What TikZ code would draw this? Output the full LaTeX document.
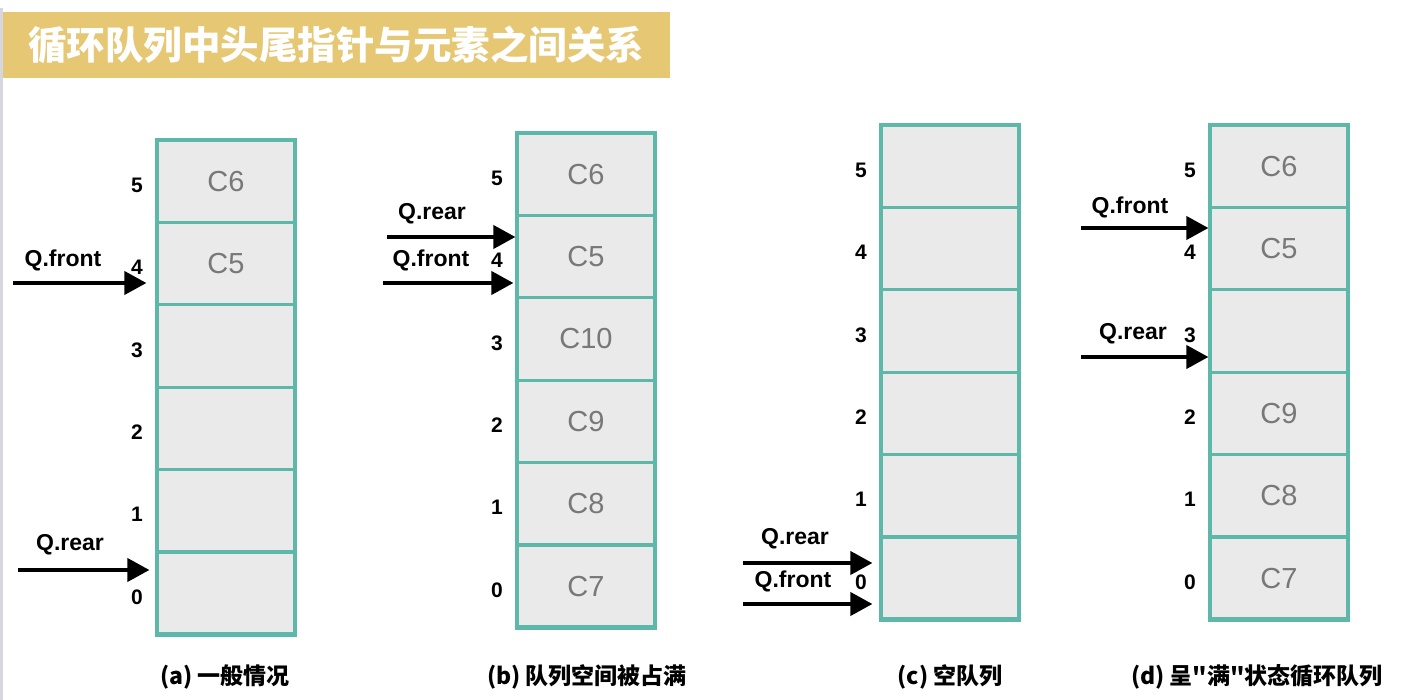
\documentclass[tikz,border=0pt]{standalone}
\usepackage{fontspec}
\setmainfont{Liberation Sans}
\newfontfamily\cjk{Noto Sans CJK SC}
\usetikzlibrary{arrows.meta}
\definecolor{teal}{HTML}{5DB8A9}
\definecolor{cellfill}{HTML}{EAEAEA}
\definecolor{celltext}{HTML}{787878}
\definecolor{gold}{HTML}{E6C874}
\definecolor{edge}{HTML}{D6D6DE}
\tikzset{
  cellbox/.style={draw=teal, line width=3.2pt, fill=cellfill, text=celltext,
    minimum width=138pt, minimum height=82.4pt, inner sep=0pt,
    font=\fontsize{29}{31}\selectfont},
  idx/.style={font=\bfseries\fontsize{21}{23}\selectfont, inner sep=0pt},
  qlab/.style={font=\bfseries\fontsize{23}{25}\selectfont, inner sep=0pt},
  ptr/.style={line width=4pt, -{Triangle[length=22pt,width=23pt]}},
  caption/.style={font=\cjk\bfseries\fontsize{23}{25}\selectfont, inner sep=0pt},
  border/.style={draw=teal, line width=4.2pt}
}
% #1 prefix, #2 left x, #3 top y, #4 cell texts from index 5 down to 0
\newcommand\qcolumn[4]{%
  \foreach \t [count=\i from 0, evaluate=\i as \n using int(5-\i)] in {#4} {
    \node[cellbox] (#1\n) at (#2+69, #3+41.2+\i*82.4) {\t};
    \node[idx] (#1l\n) at (#2-20, #3+45+\i*82.4) {\n};
  }
  \draw[border] (#2,#3) rectangle ++(138,494.4);
}
\begin{document}
\begin{tikzpicture}[x=1pt,y=-1pt]
\useasboundingbox (0,0) rectangle (1406,700);
\fill[white] (0,0) rectangle (1406,700);
\fill[edge] (0,8) rectangle (3,700);
% title
\node[fill=gold, anchor=north west, minimum width=667pt, minimum height=66pt, inner sep=0pt] (titlebar) at (3,12) {};
\node[anchor=west, text=white, font=\cjk\bfseries\fontsize{38.5}{41}\selectfont, inner sep=0pt] (titletext) at (28,45) {循环队列中头尾指针与元素之间关系};

% (a)
\qcolumn{a}{157}{140}{C6,C5,,,,}
\node[qlab] (aqf) at (63,260) {Q.front};
\coordinate (afs) at (13,283);
\draw[ptr] (afs) -- ([xshift=-9pt]afs -| a4.west);
\node[qlab] (aqr) at (70,545) {Q.rear};
\coordinate (ars) at (18,570);
\draw[ptr] (ars) -- ([xshift=-6pt]ars -| a0.west);
\node[caption] (capa) at (225,677) {(a) 一般情况};

% (b)
\qcolumn{b}{517}{133}{C6,C5,C10,C9,C8,C7}
\node[qlab] (bqr) at (432,214) {Q.rear};
\coordinate (brs) at (387,237);
\draw[ptr] (brs) -- (brs -| b4.west);
\node[qlab] (bqf) at (431,260) {Q.front};
\coordinate (bfs) at (383,283);
\draw[ptr] (bfs) -- ([xshift=-2pt]bfs -| b4.west);
\node[caption] (capb) at (587,677) {(b) 队列空间被占满};

% (c)
\qcolumn{c}{881}{125}{,,,,,}
\node[qlab] (cqr) at (795,539) {Q.rear};
\coordinate (crs) at (743,563);
\draw[ptr] (crs) -- ([xshift=-7pt]crs -| c0.west);
\node[qlab] (cqf) at (793,581) {Q.front};
\coordinate (cfs) at (743,604);
\draw[ptr] (cfs) -- ([xshift=-7pt]cfs -| c0.west);
\node[caption] (capc) at (950,677) {(c) 空队列};

% (d)
\qcolumn{d}{1210}{125}{C6,C5,,C9,C8,C7}
\node[qlab] (dqf) at (1130,207) {Q.front};
\coordinate (dfs) at (1081,228);
\draw[ptr] (dfs) -- (dfs -| d4.west);
\node[qlab] (dqr) at (1133,334) {Q.rear};
\coordinate (drs) at (1081,357);
\draw[ptr] (drs) -- (drs -| d3.west);
\node[caption] (capd) at (1257,677) {(d) 呈"满"状态循环队列};
\end{tikzpicture}
\end{document}
